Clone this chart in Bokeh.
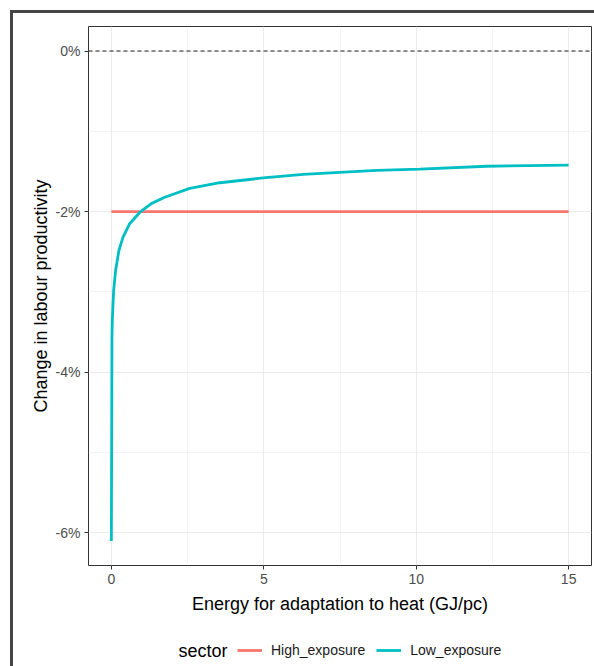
from bokeh.plotting import figure
from bokeh.layouts import column
from bokeh.models import (FixedTicker, PrintfTickFormatter, Span, Legend,
                          LegendItem, Label, Range1d)
from bokeh.embed import file_html
from bokeh.resources import INLINE

# Energy used for heat adaptation (GJ per capita)
energy_low = [0, 0.02, 0.03, 0.075, 0.14, 0.25, 0.38, 0.6, 0.93, 1.31, 1.75,
              2.57, 3.56, 4.98, 6.29, 7.49, 8.7, 10.12, 12.31, 15]
# Change in labour productivity (%) for the low-exposure sector
change_low = [-6.10, -3.55, -3.36, -2.98, -2.73, -2.48, -2.32, -2.15, -2.01,
              -1.90, -1.82, -1.71, -1.64, -1.58, -1.535, -1.51, -1.485, -1.47,
              -1.435, -1.42]
# High-exposure sector: flat response
energy_high = [0, 15]
change_high = [-2.0, -2.0]

x_ticks = [0, 5, 10, 15]
x_minor = [2.5, 7.5, 12.5]
y_ticks = [-6, -4, -2, 0]
y_minor = [-5, -3, -1]

sectors = ["High_exposure", "Low_exposure"]
colors = ["#F8766D", "#00BFC4"]

FONT = "Liberation Sans"

# ---- main panel ----
p = figure(width=581, height=612, output_backend="svg", toolbar_location=None,
           x_range=Range1d(-0.75, 15.75), y_range=Range1d(-6.405, 0.305),
           min_border_left=75, min_border_right=3, min_border_top=13,
           min_border_bottom=60)

p.background_fill_color = "white"
p.border_fill_color = "white"
p.outline_line_color = "#333333"
p.outline_line_width = 1

for g in (p.xgrid, p.ygrid):
    g.grid_line_color = "#EBEBEB"
    g.grid_line_width = 1.1
    g.minor_grid_line_color = "#EBEBEB"
    g.minor_grid_line_width = 0.6

p.xaxis.ticker = FixedTicker(ticks=x_ticks, minor_ticks=x_minor)
p.yaxis.ticker = FixedTicker(ticks=y_ticks, minor_ticks=y_minor)
p.yaxis.formatter = PrintfTickFormatter(format="%d%%")

for ax in (p.xaxis[0], p.yaxis[0]):
    ax.axis_line_color = None
    ax.major_tick_line_color = "#333333"
    ax.major_tick_line_width = 1
    ax.major_tick_out = 4
    ax.major_tick_in = 0
    ax.minor_tick_line_color = None
    ax.major_label_text_font = FONT
    ax.major_label_text_font_size = "14px"
    ax.major_label_text_color = "#4D4D4D"
    ax.axis_label_text_font = FONT
    ax.axis_label_text_font_size = "18px"
    ax.axis_label_text_font_style = "normal"
    ax.axis_label_text_color = "black"

p.xaxis.axis_label = "Energy for adaptation to heat (GJ/pc)"
p.xaxis.major_label_standoff = 4
p.xaxis.axis_label_standoff = 7
p.yaxis.axis_label = "Change in labour productivity"
p.yaxis.major_label_standoff = 4
p.yaxis.axis_label_standoff = 2

# zero reference line
p.add_layout(Span(location=0, dimension="width", line_color="#222222",
                  line_width=1, line_dash="4 3"))

r_high = p.line(energy_high, change_high, line_color=colors[0], line_width=2.8)
r_low = p.line(energy_low, change_low, line_color=colors[1], line_width=2.8)

# ---- legend strip below the panel (frame aligned with the panel above) ----
leg = figure(width=581, height=41, output_backend="svg", toolbar_location=None,
             x_range=Range1d(0, 1), y_range=Range1d(0, 1), min_border=0)
leg.axis.visible = False
leg.grid.visible = False
leg.outline_line_color = None
leg.background_fill_color = "white"
leg.border_fill_color = "white"

nan = float("nan")
keys = [leg.line([nan], [nan], line_color=c, line_width=2.8) for c in colors]
legend = Legend(items=[LegendItem(label=s, renderers=[k]) for s, k in zip(sectors, keys)],
                orientation="horizontal", location=(149, 6),
                border_line_color=None, background_fill_alpha=0,
                label_text_font=FONT, label_text_font_size="14px",
                label_text_color="#1A1A1A", glyph_width=25, glyph_height=20,
                label_standoff=9, spacing=11, padding=0, margin=0)
leg.add_layout(legend)
leg.add_layout(Label(x=90, y=16, x_units="screen", y_units="screen",
                     text="sector", text_font=FONT, text_font_size="18px",
                     text_color="black", text_baseline="middle", text_align="left"))

layout = column(p, leg, spacing=0)
layout.styles = {"margin-left": "10px", "margin-top": "10px",
                 "border-left": "3px solid #454545", "border-top": "3px solid #454545"}

open("out.html", "w").write(file_html(layout, INLINE))
